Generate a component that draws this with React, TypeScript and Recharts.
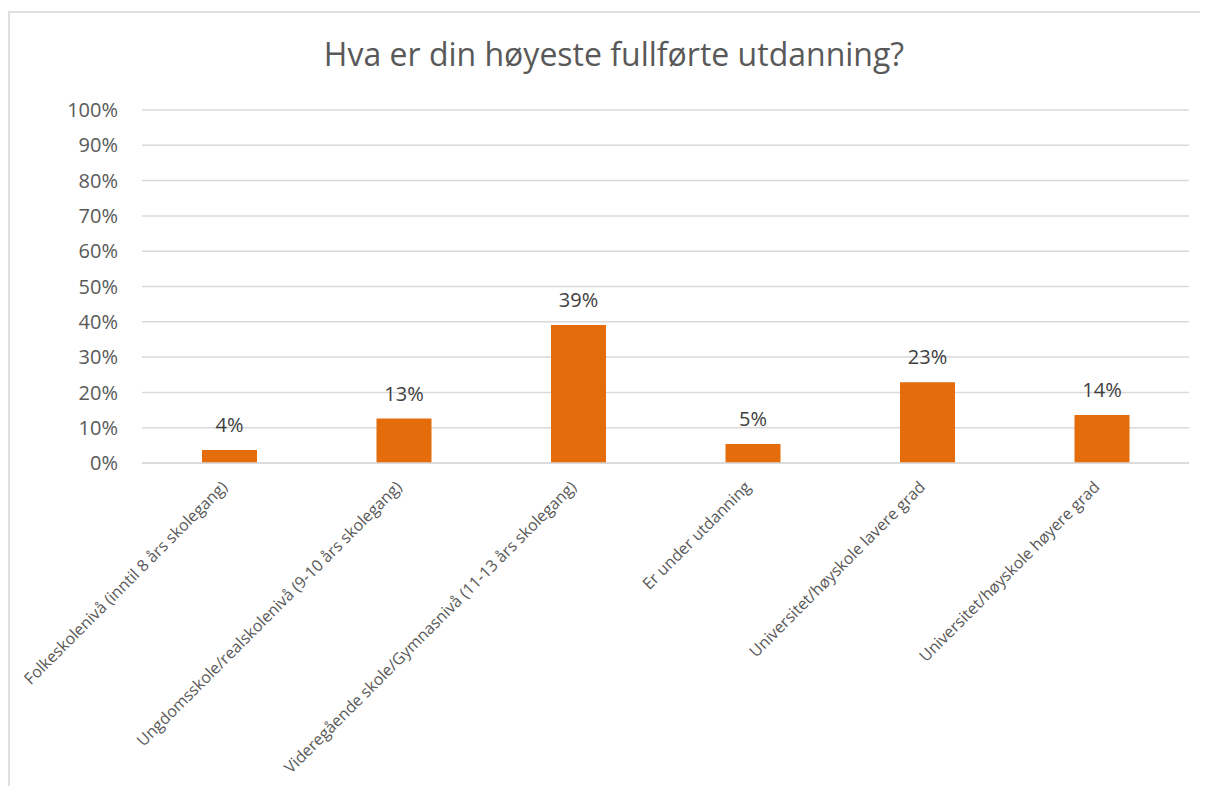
import React from "react";
import { BarChart, Bar, XAxis, YAxis, CartesianGrid, LabelList } from "recharts";

const categories = [
  "Folkeskolenivå (inntil 8 års skolegang)",
  "Ungdomsskole/realskolenivå (9-10 års skolegang)",
  "Videregående skole/Gymnasnivå (11-13 års skolegang)",
  "Er under utdanning",
  "Universitet/høyskole lavere grad",
  "Universitet/høyskole høyere grad",
];
const shares = [0.037, 0.126, 0.391, 0.054, 0.229, 0.136];
const yTicks = [0, 0.1, 0.2, 0.3, 0.4, 0.5, 0.6, 0.7, 0.8, 0.9, 1];
const title = "Hva er din høyeste fullførte utdanning?";

const data = categories.map((name, i) => ({ name, value: shares[i] }));

const FONT = "'Open Sans', 'DejaVu Sans', sans-serif";
const pct = (v: number) => `${Math.round(v * 100)}%`;

const XTick = (props: any) => {
  const { x, y, payload } = props;
  const ax = x - 1;
  const ay = y + 17;
  return (
    <text
      x={ax}
      y={ay}
      transform={`rotate(-45 ${ax} ${ay})`}
      textAnchor="end"
      fill="#595959"
      fontSize={16}
      fontFamily={FONT}
    >
      {payload.value}
    </text>
  );
};

export default function App() {
  return (
    <div
      style={{
        position: "relative",
        width: 1200,
        height: 786,
        marginTop: -8,
        marginLeft: -8,
        overflow: "hidden",
        background: "#fff",
        fontFamily: FONT,
      }}
    >
      <div
        style={{
          position: "absolute",
          left: 8,
          top: 11,
          width: 1300,
          height: 900,
          borderTop: "2px solid #e0e0e0",
          borderLeft: "2px solid #e0e0e0",
          boxSizing: "border-box",
        }}
      />
      <div
        style={{
          position: "absolute",
          left: 1220 - 67,
          top: -60 - 67,
          width: 134,
          height: 134,
          borderRadius: "50%",
          background: "#4f3d8f",
        }}
      />
      <div
        style={{
          position: "absolute",
          left: 8,
          width: 1212,
          top: 34,
          textAlign: "center",
          fontSize: 32,
          color: "#595959",
          fontFamily: FONT,
          lineHeight: "40px",
          whiteSpace: "nowrap",
        }}
      >
        {title}
      </div>
      <div style={{ position: "absolute", left: 8, top: 8 }}>
        <BarChart
          width={1192}
          height={778}
          data={data}
          margin={{ top: 102, right: 11, bottom: 0, left: 0 }}
        >
          <CartesianGrid vertical={false} stroke="#d9d9d9" strokeWidth={1.5} />
          <XAxis
            dataKey="name"
            interval={0}
            height={323}
            tick={<XTick />}
            tickLine={false}
            axisLine={{ stroke: "#d9d9d9", strokeWidth: 1.5 }}
          />
          <YAxis
            domain={[0, 1]}
            ticks={yTicks}
            tickFormatter={pct}
            width={134}
            axisLine={false}
            tickLine={false}
            tickSize={6}
            tickMargin={18}
            tick={{ fill: "#595959", fontSize: 20, fontFamily: FONT }}
          />
          <Bar dataKey="value" fill="#e46c0a" barSize={55} isAnimationActive={false}>
            <LabelList
              dataKey="value"
              position="top"
              offset={18}
              formatter={pct}
              fill="#404040"
              fontSize={20}
              fontFamily={FONT}
            />
          </Bar>
        </BarChart>
      </div>
    </div>
  );
}
